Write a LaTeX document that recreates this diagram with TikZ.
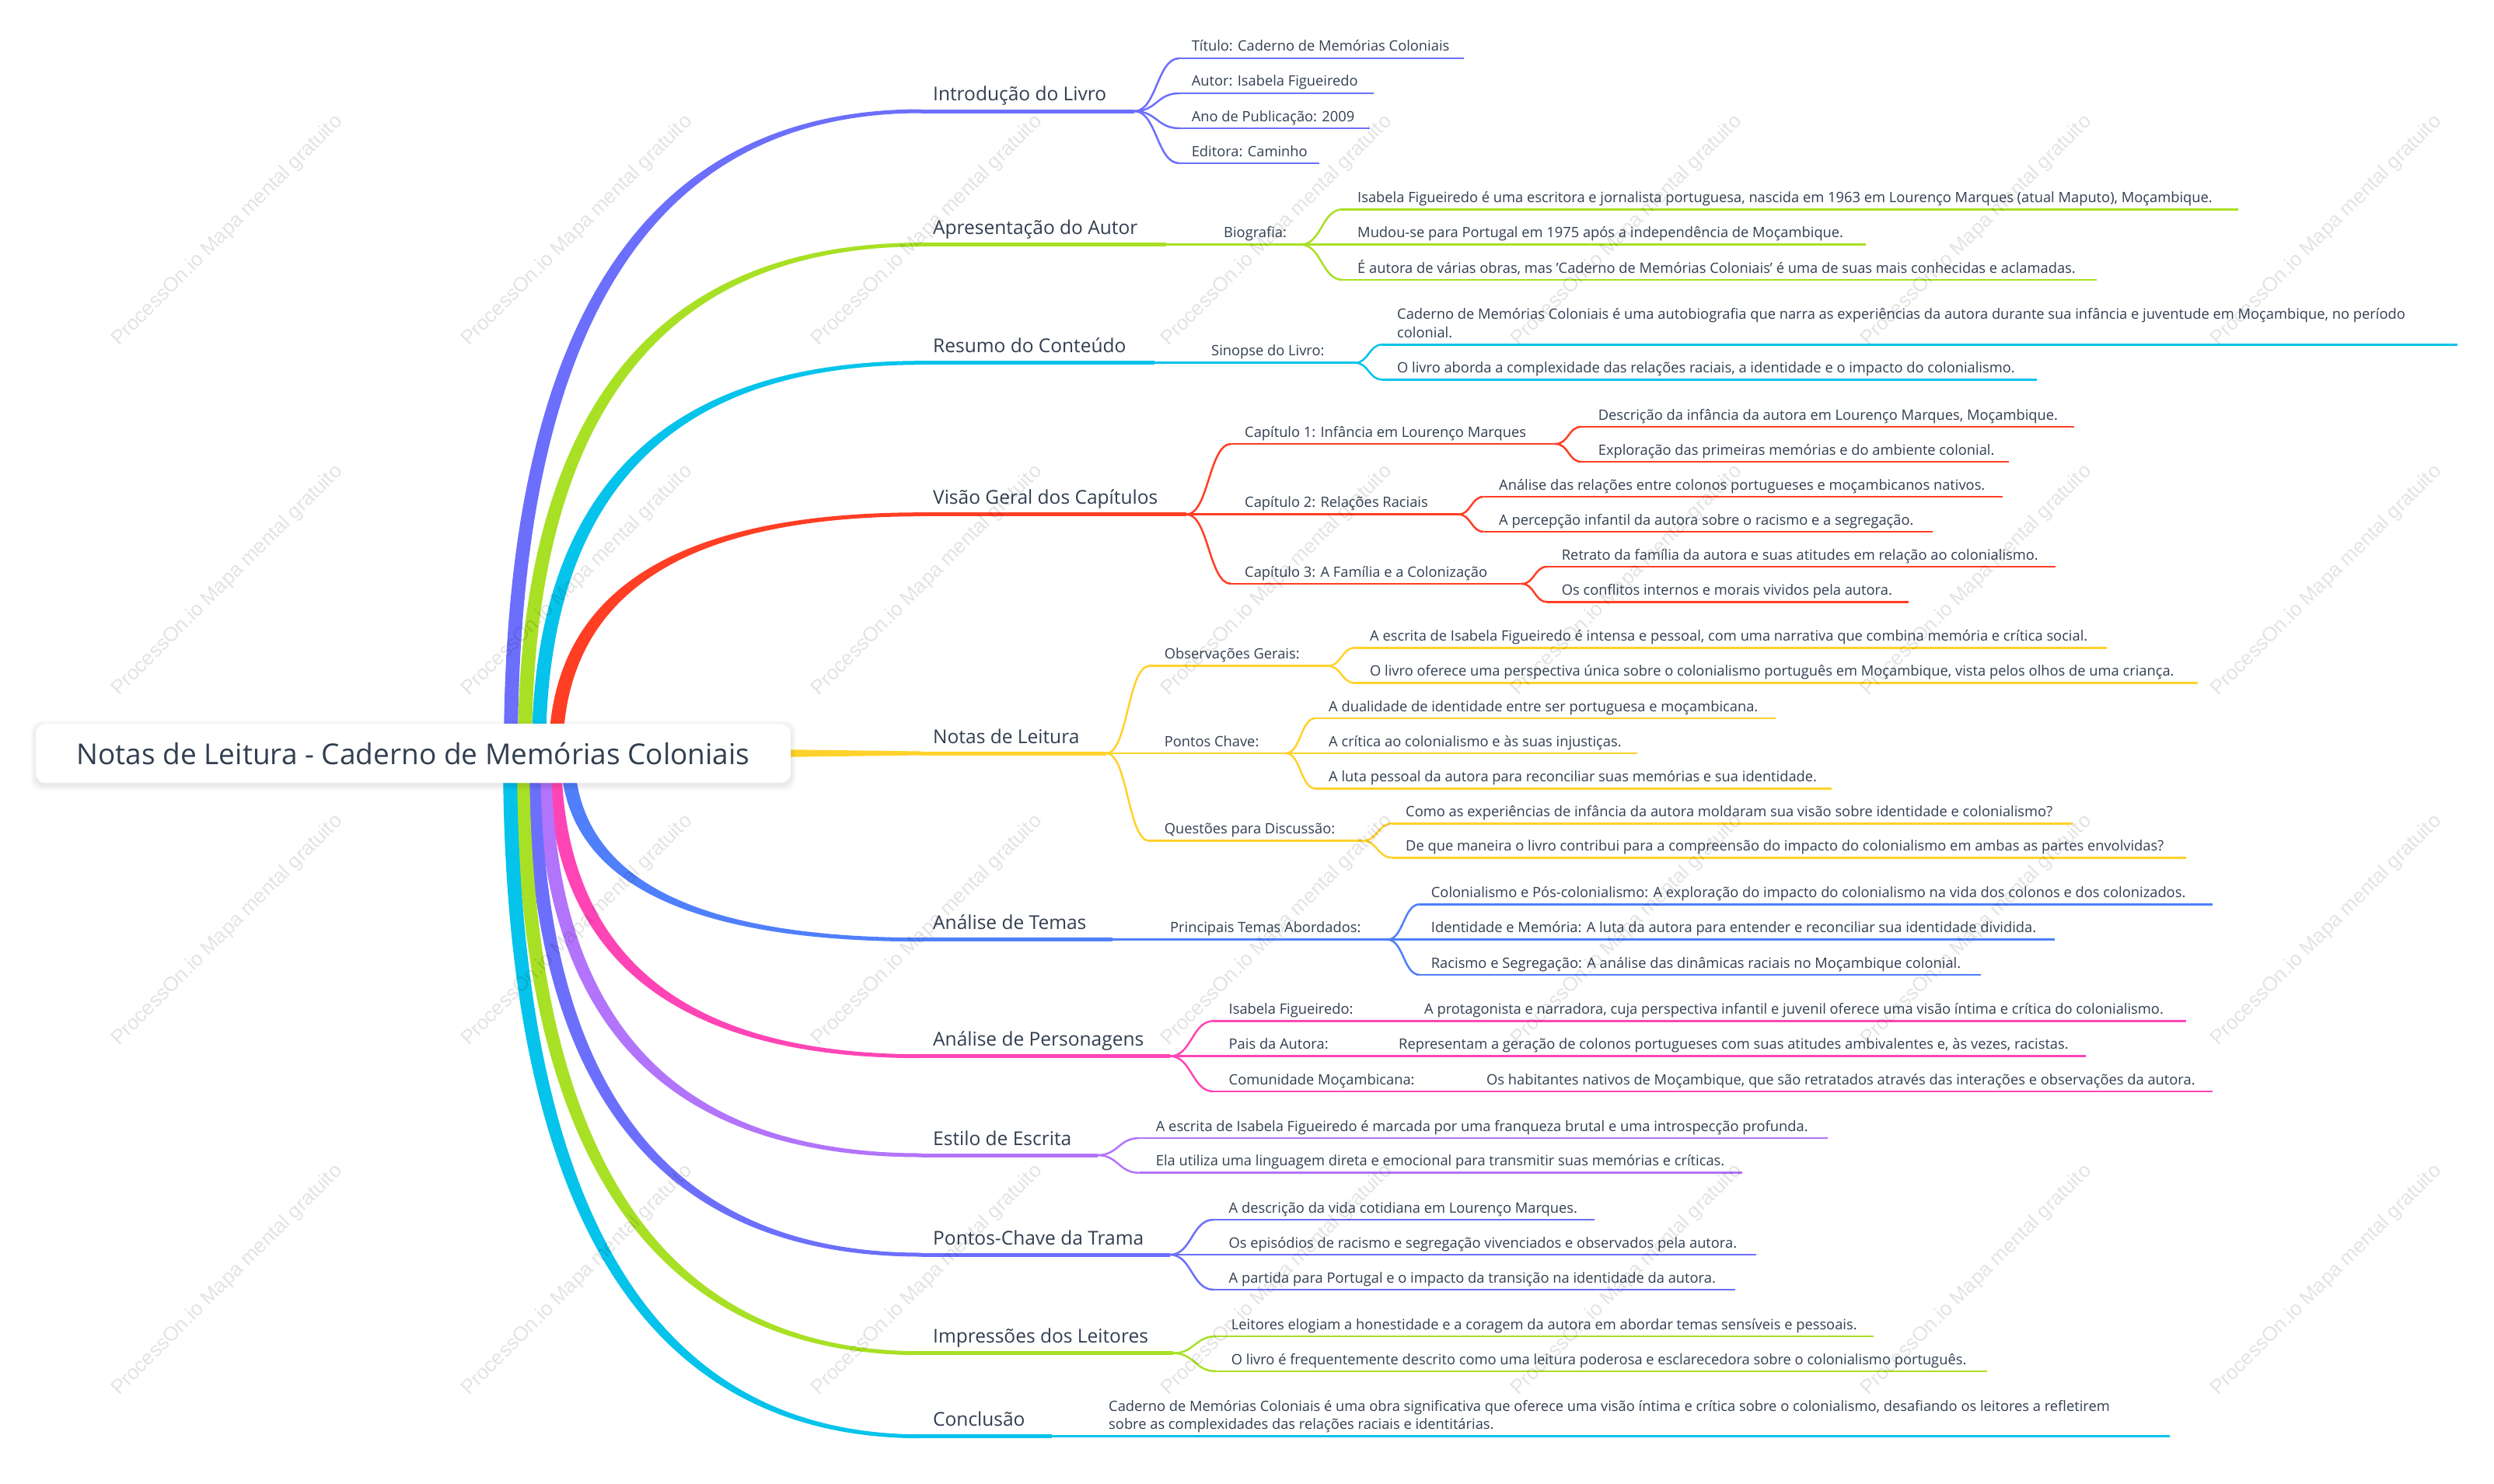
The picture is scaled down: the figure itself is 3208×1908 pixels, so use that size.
\documentclass[tikz,border=0pt]{standalone}
\usepackage{fontspec}
\setmainfont{Open Sans}
\newfontfamily\wmfont{Liberation Sans}
\usetikzlibrary{calc}
\definecolor{txt}{HTML}{323E50}
\definecolor{cP}{HTML}{6C6FFB}
\definecolor{cG}{HTML}{A8E025}
\definecolor{cC}{HTML}{05C3EB}
\definecolor{cR}{HTML}{FF3E24}
\definecolor{cY}{HTML}{FFD22B}
\definecolor{cB}{HTML}{4F7FFB}
\definecolor{cK}{HTML}{FF45B5}
\definecolor{cV}{HTML}{B274FB}
\newcommand\mmleaf[7]{%
  \coordinate (#1-s) at (#4,#3);
  \coordinate (#1-e) at (#5,#3);
  \draw[tline,#2] (#1-s) -- (#1-e);
  \node[lf] (#1) at (#6,#3-9) {#7};}
\newcommand\mmconn[3]{%
  \draw[tline,#3] let \p1=(#1),\p2=(#2) in (#1) .. controls ({(\x1+\x2)/2},\y1) and ({(\x1+\x2)/2},\y2) .. (#2);}
\newcommand\mmthick[4]{%
  \fill[#3] let \p1=(#1),\p2=(#2) in
   ({\x1-9pt},\y1) .. controls ({\x1-9pt},{\y1+2/3*(\y2+(#4)-\y1)}) and ({\x2-2/3*(\x2-\x1+9pt)},{\y2+(#4)}) .. (\x2,{\y2+(#4)})
   -- (\x2,{\y2-(#4)}) .. controls ({\x2-2/3*(\x2-\x1-9pt)},{\y2-(#4)}) and ({\x1+9pt},{\y1+2/3*(\y2-(#4)-\y1)}) .. ({\x1+9pt},\y1) -- cycle;}
\begin{document}
\begin{tikzpicture}[x=1pt,y=-1pt,
  tline/.style={line width=2.5pt},
  l1line/.style={line width=5pt},
  lf/.style={anchor=base west,inner sep=0pt,text=txt,font=\fontsize{18.3}{23.5}\selectfont,align=left},
  l1/.style={anchor=base west,inner sep=0pt,text=txt,font=\fontsize{24.5}{28}\selectfont},
  wm/.style={anchor=base west,inner sep=0pt,text=black,opacity=0.11,font=\wmfont\fontsize{26}{30}\selectfont,rotate=45}]
\useasboundingbox (0,0) rectangle (3208,1908);
\fill[white] (0,0) rectangle (3208,1908);

% ---------- branch starts ----------
\coordinate (b1-0) at (657,969);
\coordinate (b2-0) at (675,969);
\coordinate (b3-0) at (693,969);
\coordinate (b4-0) at (715,969);
\coordinate (b5-0) at (700,969);
\coordinate (b6-0) at (730,969);
\coordinate (b7-0) at (713,969);
\coordinate (b8-0) at (700,969);
\coordinate (b9-0) at (686,969);
\coordinate (b10-0) at (672,969);
\coordinate (b11-0) at (656,969);
% curve ends and thick ends
\coordinate (b1-c) at (1185,143);   \coordinate (b1-e) at (1459,143);
\coordinate (b2-c) at (1185,314.7); \coordinate (b2-e) at (1499.5,314.7);
\coordinate (b3-c) at (1185,466.7); \coordinate (b3-e) at (1485,466.7);
\coordinate (b4-c) at (1185,661.7); \coordinate (b4-e) at (1526,661.7);
\coordinate (b5-c) at (1185,969);   \coordinate (b5-e) at (1423,969);
\coordinate (b6-c) at (1185,1208.7);\coordinate (b6-e) at (1430.6,1208.7);
\coordinate (b7-c) at (1185,1358.7);\coordinate (b7-e) at (1505,1358.7);
\coordinate (b8-c) at (1185,1486);  \coordinate (b8-e) at (1411.5,1486);
\coordinate (b9-c) at (1185,1614);  \coordinate (b9-e) at (1505,1614);
\coordinate (b10-c) at (1185,1740.7);\coordinate (b10-e) at (1509,1740.7);
\coordinate (b11-c) at (1185,1847.7);\coordinate (b11-e) at (1353,1847.7);

\mmthick{b1-0}{b1-c}{cP}{2.5pt}
\mmthick{b2-0}{b2-c}{cG}{2.5pt}
\mmthick{b3-0}{b3-c}{cC}{2.5pt}
\mmthick{b4-0}{b4-c}{cR}{2.5pt}
\fill[cY] let \p1=(b5-0),\p2=(b5-c) in (\x1,{\y1+9pt}) -- (\x2,{\y2+2.5pt}) -- (\x2,{\y2-2.5pt}) -- (\x1,{\y1-9pt}) -- cycle;
\mmthick{b6-0}{b6-c}{cB}{-2.5pt}
\mmthick{b7-0}{b7-c}{cK}{-2.5pt}
\mmthick{b8-0}{b8-c}{cV}{-2.5pt}
\mmthick{b9-0}{b9-c}{cP}{-2.5pt}
\mmthick{b10-0}{b10-c}{cG}{-2.5pt}
\mmthick{b11-0}{b11-c}{cC}{-2.5pt}
\foreach \i/\cl in {1/cP,2/cG,3/cC,4/cR,5/cY,6/cB,7/cK,8/cV,9/cP,10/cG,11/cC}
  {\draw[l1line,\cl] (b\i-c) -- (b\i-e);}

% ---------- root ----------
\foreach \k in {1,...,7}
  {\fill[black,opacity=0.012,rounded corners=14pt] (46-\k,931-\k+3) rectangle (1017+\k,1007+\k+3);}
\node[draw=black!5,fill=white,rounded corners=12pt,minimum width=971pt,minimum height=76pt,inner sep=0pt,
  text=txt,font=\fontsize{37}{42}\selectfont] (root) at (531.5,969) {Notas de Leitura - Caderno de Memórias Coloniais};

% ---------- level 1 labels ----------
\node[l1] (b1) at (1200,130) {Introdução do Livro};
\node[l1] (b2) at (1200,301.7) {Apresentação do Autor};
\node[l1] (b3) at (1200,453.7) {Resumo do Conteúdo};
\node[l1] (b4) at (1200,648.7) {Visão Geral dos Capítulos};
\node[l1] (b5) at (1200,956) {Notas de Leitura};
\node[l1] (b6) at (1200,1195.7) {Análise de Temas};
\node[l1] (b7) at (1200,1345.7) {Análise de Personagens};
\node[l1] (b8) at (1200,1473) {Estilo de Escrita};
\node[l1] (b9) at (1200,1601) {Pontos-Chave da Trama};
\node[l1] (b10) at (1200,1727.7) {Impressões dos Leitores};
\node[l1] (b11) at (1200,1834.7) {Conclusão};

% ---------- 1 Introdução ----------
\mmleaf{b1a}{cP}{75}{1517}{1883}{1532.6}{Título: Caderno de Memórias Coloniais}
\mmleaf{b1b}{cP}{120}{1517}{1767}{1532.6}{Autor: Isabela Figueiredo}
\mmleaf{b1c}{cP}{165}{1517}{1762}{1532.6}{Ano de Publicação: 2009}
\mmleaf{b1d}{cP}{210}{1517}{1697}{1532.6}{Editora: Caminho}
\foreach \nm in {b1a,b1b,b1c,b1d} {\mmconn{b1-e}{\nm-s}{cP}}

% ---------- 2 Apresentação ----------
\mmleaf{b2a}{cG}{314.7}{1515}{1673}{1574}{Biografia:}
\draw[tline,cG] (b2-e) -- (b2a-s);
\mmleaf{b2a1}{cG}{269.3}{1727}{2879}{1746}{Isabela Figueiredo é uma escritora e jornalista portuguesa, nascida em 1963 em Lourenço Marques (atual Maputo), Moçambique.}
\mmleaf{b2a2}{cG}{314.7}{1727}{2400}{1746}{Mudou-se para Portugal em 1975 após a independência de Moçambique.}
\mmleaf{b2a3}{cG}{360}{1727}{2697}{1746}{É autora de várias obras, mas 'Caderno de Memórias Coloniais' é uma de suas mais conhecidas e aclamadas.}
\foreach \nm in {b2a1,b2a2,b2a3} {\mmconn{b2a-e}{\nm-s}{cG}}

% ---------- 3 Resumo ----------
\mmleaf{b3a}{cC}{466.7}{1500}{1743}{1558}{Sinopse do Livro:}
\draw[tline,cC] (b3-e) -- (b3a-s);
\mmleaf{b3a1}{cC}{443.3}{1778}{3161}{1797}{Caderno de Memórias Coloniais é uma autobiografia que narra as experiências da autora durante sua infância e juventude em Moçambique, no período\\colonial.}
\mmleaf{b3a2}{cC}{488.3}{1778}{2620}{1797}{O livro aborda a complexidade das relações raciais, a identidade e o impacto do colonialismo.}
\foreach \nm in {b3a1,b3a2} {\mmconn{b3a-e}{\nm-s}{cC}}

% ---------- 4 Visão Geral ----------
\mmleaf{b4a}{cR}{571}{1583.7}{2001}{1601}{Capítulo 1: Infância em Lourenço Marques}
\mmleaf{b4b}{cR}{661.7}{1583.7}{1876}{1601}{Capítulo 2: Relações Raciais}
\mmleaf{b4c}{cR}{751}{1583.7}{1957.5}{1601}{Capítulo 3: A Família e a Colonização}
\foreach \nm in {b4a,b4b,b4c} {\mmconn{b4-e}{\nm-s}{cR}}
\mmleaf{b4a1}{cR}{549}{2034}{2668}{2055.6}{Descrição da infância da autora em Lourenço Marques, Moçambique.}
\mmleaf{b4a2}{cR}{594}{2034}{2584}{2055.6}{Exploração das primeiras memórias e do ambiente colonial.}
\foreach \nm in {b4a1,b4a2} {\mmconn{b4a-e}{\nm-s}{cR}}
\mmleaf{b4b1}{cR}{639}{1908.5}{2576}{1928}{Análise das relações entre colonos portugueses e moçambicanos nativos.}
\mmleaf{b4b2}{cR}{684}{1908.5}{2486}{1928}{A percepção infantil da autora sobre o racismo e a segregação.}
\foreach \nm in {b4b1,b4b2} {\mmconn{b4b-e}{\nm-s}{cR}}
\mmleaf{b4c1}{cR}{729}{1990}{2644}{2008.7}{Retrato da família da autora e suas atitudes em relação ao colonialismo.}
\mmleaf{b4c2}{cR}{774.3}{1990}{2455}{2008.7}{Os conflitos internos e morais vividos pela autora.}
\foreach \nm in {b4c1,b4c2} {\mmconn{b4c-e}{\nm-s}{cR}}

% ---------- 5 Notas de Leitura ----------
\mmleaf{b5a}{cY}{856.7}{1478.4}{1708}{1497.6}{Observações Gerais:}
\mmleaf{b5b}{cY}{969}{1478.4}{1654}{1497.6}{Pontos Chave:}
\mmleaf{b5c}{cY}{1081.7}{1478.4}{1752.7}{1497.6}{Questões para Discussão:}
\foreach \nm in {b5a,b5b,b5c} {\mmconn{b5-e}{\nm-s}{cY}}
\mmleaf{b5a1}{cY}{833.3}{1743}{2710}{1762}{A escrita de Isabela Figueiredo é intensa e pessoal, com uma narrativa que combina memória e crítica social.}
\mmleaf{b5a2}{cY}{878.7}{1743}{2826.5}{1762}{O livro oferece uma perspectiva única sobre o colonialismo português em Moçambique, vista pelos olhos de uma criança.}
\foreach \nm in {b5a1,b5a2} {\mmconn{b5a-e}{\nm-s}{cY}}
\mmleaf{b5b1}{cY}{924}{1692}{2284}{1709}{A dualidade de identidade entre ser portuguesa e moçambicana.}
\mmleaf{b5b2}{cY}{969}{1692}{2105.6}{1709}{A crítica ao colonialismo e às suas injustiças.}
\mmleaf{b5b3}{cY}{1014.3}{1692}{2356}{1709}{A luta pessoal da autora para reconciliar suas memórias e sua identidade.}
\foreach \nm in {b5b1,b5b2,b5b3} {\mmconn{b5b-e}{\nm-s}{cY}}
\mmleaf{b5c1}{cY}{1059.3}{1791}{2666}{1808}{Como as experiências de infância da autora moldaram sua visão sobre identidade e colonialismo?}
\mmleaf{b5c2}{cY}{1103.3}{1791}{2812}{1808}{De que maneira o livro contribui para a compreensão do impacto do colonialismo em ambas as partes envolvidas?}
\foreach \nm in {b5c1,b5c2} {\mmconn{b5c-e}{\nm-s}{cY}}

% ---------- 6 Análise de Temas ----------
\mmleaf{b6a}{cB}{1208.7}{1445}{1784.6}{1505}{Principais Temas Abordados:}
\draw[tline,cB] (b6-e) -- (b6a-s);
\mmleaf{b6a1}{cB}{1163.3}{1826}{2845.6}{1840.7}{Colonialismo e Pós-colonialismo: A exploração do impacto do colonialismo na vida dos colonos e dos colonizados.}
\mmleaf{b6a2}{cB}{1208.7}{1826}{2643}{1840.7}{Identidade e Memória: A luta da autora para entender e reconciliar sua identidade dividida.}
\mmleaf{b6a3}{cB}{1254}{1826}{2548}{1840.7}{Racismo e Segregação: A análise das dinâmicas raciais no Moçambique colonial.}
\foreach \nm in {b6a1,b6a2,b6a3} {\mmconn{b6a-e}{\nm-s}{cB}}

% ---------- 7 Análise de Personagens ----------
\mmleaf{b7a}{cK}{1313.3}{1561}{1759}{1580.5}{Isabela Figueiredo:}
\mmleaf{b7b}{cK}{1358.7}{1561}{1727}{1580.5}{Pais da Autora:}
\mmleaf{b7c}{cK}{1404}{1561}{1837.5}{1580.5}{Comunidade Moçambicana:}
\foreach \nm in {b7a,b7b,b7c} {\mmconn{b7-e}{\nm-s}{cK}}
\mmleaf{b7a1}{cK}{1313.3}{1774}{2812}{1832}{A protagonista e narradora, cuja perspectiva infantil e juvenil oferece uma visão íntima e crítica do colonialismo.}
\mmleaf{b7b1}{cK}{1358.7}{1742}{2683}{1799}{Representam a geração de colonos portugueses com suas atitudes ambivalentes e, às vezes, racistas.}
\mmleaf{b7c1}{cK}{1404}{1852}{2846}{1912}{Os habitantes nativos de Moçambique, que são retratados através das interações e observações da autora.}
\draw[tline,cK] (b7a-e) -- (b7a1-s);
\draw[tline,cK] (b7b-e) -- (b7b1-s);
\draw[tline,cK] (b7c-e) -- (b7c1-s);

% ---------- 8 Estilo de Escrita ----------
\mmleaf{b8a}{cV}{1464}{1465.7}{2350.5}{1486.7}{A escrita de Isabela Figueiredo é marcada por uma franqueza brutal e uma introspecção profunda.}
\mmleaf{b8b}{cV}{1508.7}{1465.7}{2241}{1486.7}{Ela utiliza uma linguagem direta e emocional para transmitir suas memórias e críticas.}
\foreach \nm in {b8a,b8b} {\mmconn{b8-e}{\nm-s}{cV}}

% ---------- 9 Pontos-Chave da Trama ----------
\mmleaf{b9a}{cP}{1569}{1561}{2050.5}{1580.5}{A descrição da vida cotidiana em Lourenço Marques.}
\mmleaf{b9b}{cP}{1614}{1561}{2258.7}{1580.5}{Os episódios de racismo e segregação vivenciados e observados pela autora.}
\mmleaf{b9c}{cP}{1659}{1561}{2232}{1580.5}{A partida para Portugal e o impacto da transição na identidade da autora.}
\foreach \nm in {b9a,b9b,b9c} {\mmconn{b9-e}{\nm-s}{cP}}

% ---------- 10 Impressões dos Leitores ----------
\mmleaf{b10a}{cG}{1719}{1564.5}{2410}{1583.7}{Leitores elogiam a honestidade e a coragem da autora em abordar temas sensíveis e pessoais.}
\mmleaf{b10b}{cG}{1764}{1564.5}{2555.6}{1583.7}{O livro é frequentemente descrito como uma leitura poderosa e esclarecedora sobre o colonialismo português.}
\foreach \nm in {b10a,b10b} {\mmconn{b10-e}{\nm-s}{cG}}

% ---------- 11 Conclusão ----------
\mmleaf{b11a}{cC}{1847.7}{1370}{2791}{1426}{Caderno de Memórias Coloniais é uma obra significativa que oferece uma visão íntima e crítica sobre o colonialismo, desafiando os leitores a refletirem\\sobre as complexidades das relações raciais e identitárias.}
\draw[tline,cC] (b11-e) -- (b11a-s);

% ---------- watermark ----------
\foreach \i in {0,...,6}
  {\foreach \j in {0,...,3}
    {\node[wm] (wm\i-\j) at (153+450*\i,446+450*\j) {ProcessOn.io Mapa mental gratuito};}}
\end{tikzpicture}
\end{document}
